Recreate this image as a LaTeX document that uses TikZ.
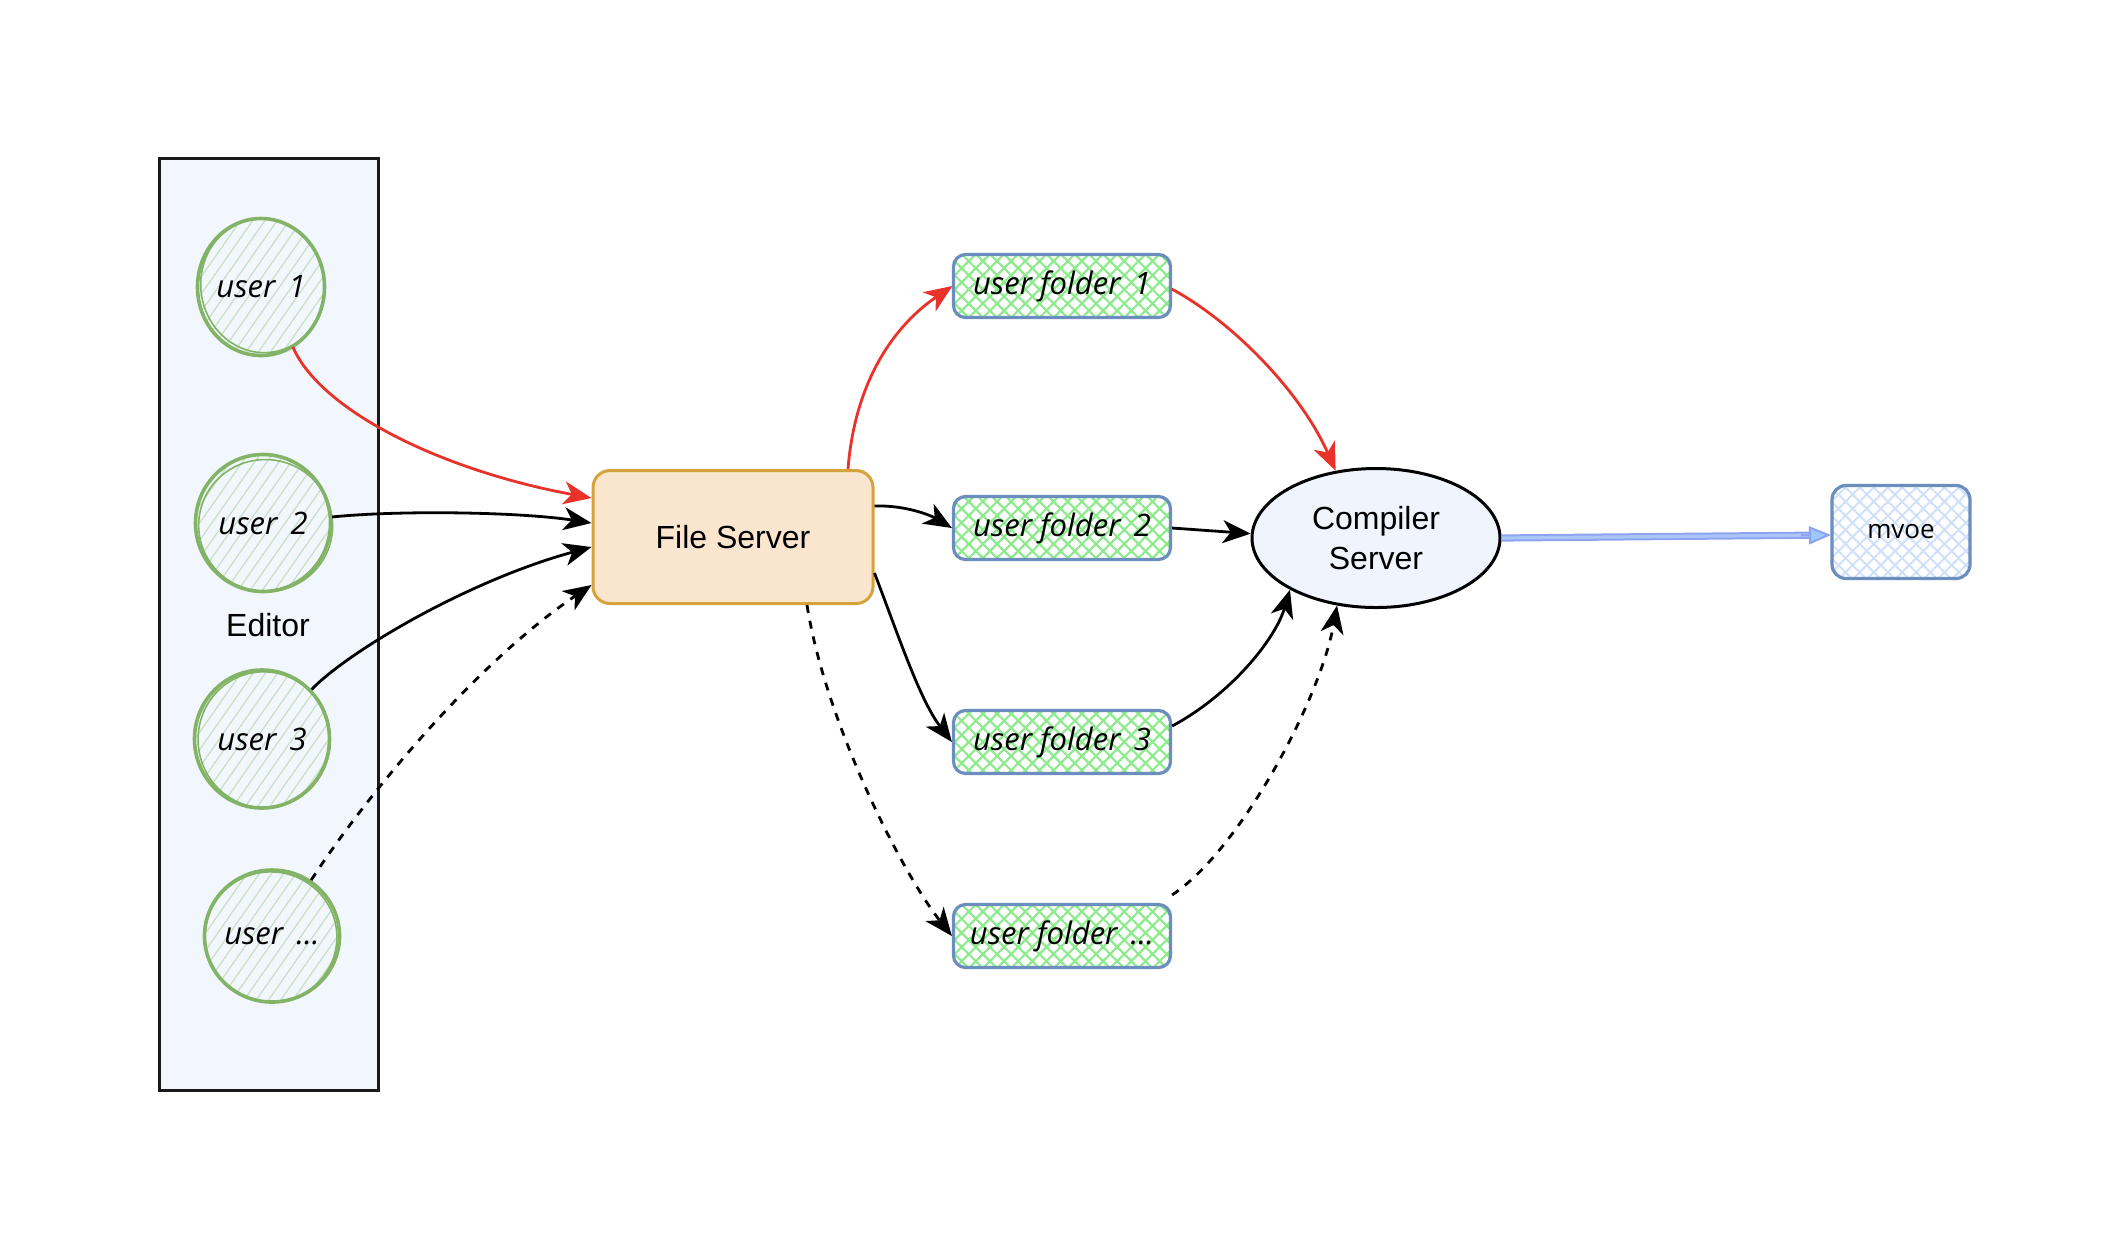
\documentclass[tikz,border=0pt]{standalone}
\usepackage{fontspec}
\setmainfont{Liberation Sans}
\newfontfamily\handfont{Open Sans}
\usetikzlibrary{arrows.meta,patterns.meta,shapes.geometric,calc}

\definecolor{usergreen}{HTML}{82B366}
\definecolor{hatchlight}{HTML}{C8DFC0}
\definecolor{hatchgreen}{HTML}{8DEA8D}
\definecolor{hatchblue}{HTML}{D0E0FA}
\definecolor{foldblue}{HTML}{6C8EBF}
\definecolor{edfill}{HTML}{F2F7FD}
\definecolor{csfill}{HTML}{F0F5FD}
\definecolor{fsfill}{HTML}{FAE6CF}
\definecolor{fsdraw}{HTML}{D6A23B}
\definecolor{redc}{HTML}{E8322A}
\definecolor{bluec}{HTML}{8DA3F2}
\definecolor{bluein}{HTML}{A9C6F7}
\definecolor{bluefill}{HTML}{9CC8FF}

\tikzset{
  handtext/.style={font=\handfont\itshape\fontsize{15.5}{18}\selectfont},
  editorbox/.style={draw=black!90, line width=1.5pt, fill=edfill, minimum width=109.5pt, minimum height=466pt, inner sep=0pt},
  usercirc/.style={ellipse, draw=usergreen, line width=1.8pt, inner sep=0pt,
    pattern={Lines[angle=55,distance=5pt,line width=0.6pt]}, pattern color=hatchlight, handtext},
  sketchring/.style={draw=usergreen, line width=0.8pt},
  fsbox/.style={draw=fsdraw, fill=fsfill, line width=1.5pt, rounded corners=8.5pt, minimum width=140pt, minimum height=66.5pt, font=\fontsize{16}{20}\selectfont},
  folder/.style={draw=foldblue, line width=1.6pt, rounded corners=6pt, minimum width=108.5pt, minimum height=31.5pt, inner sep=0pt,
    pattern={Hatch[angle=45,distance=5pt,line width=1.1pt]}, pattern color=hatchgreen, handtext},
  csell/.style={ellipse, draw=black, fill=csfill, line width=1.5pt, minimum width=124pt, minimum height=69.5pt, inner sep=0pt, align=center, font=\fontsize{16}{20}\selectfont},
  mvoebox/.style={draw=foldblue, line width=1.6pt, rounded corners=7pt, minimum width=69pt, minimum height=46.5pt, inner sep=0pt,
    pattern={Hatch[angle=45,distance=5pt,line width=1pt]}, pattern color=hatchblue, font=\handfont\fontsize{13}{15}\selectfont},
  arr/.style={-{Stealth[length=14pt,width=11.5pt,inset=4pt]}, line width=1.4pt},
  dsh/.style={dash pattern=on 4pt off 4pt},
}

\begin{document}
\begin{tikzpicture}[x=0.5pt,y=-0.5pt]
\useasboundingbox (0,0) rectangle (2124,1244);

% editor container
\node[editorbox] (ed) at (268.5,624) {};
\node[font=\fontsize{16}{20}\selectfont] (edl) at (268,625) {Editor};

% users
\node[usercirc, minimum width=63.5pt, minimum height=68.5pt] (u1) at (261,287) {user\ \,1};
\node[usercirc, minimum width=67.5pt, minimum height=68.5pt] (u2) at (263,523) {user\ \,2};
\node[usercirc, minimum width=67.5pt, minimum height=69pt] (u3) at (262,739) {user\ \,3};
\node[usercirc, minimum width=67.5pt, minimum height=66pt] (u4) at (272,936) {user\ \,...};

\draw[sketchring, rotate around={8:(u1.center)}] ($(u1.center)+(2,-1)$) ellipse [x radius=62, y radius=67];
\draw[sketchring, rotate around={-10:(u2.center)}] ($(u2.center)+(3,2)$) ellipse [x radius=67, y radius=66];
\draw[sketchring, rotate around={6:(u3.center)}] ($(u3.center)+(2,1)$) ellipse [x radius=66, y radius=68];
\draw[sketchring, rotate around={-6:(u4.center)}] ($(u4.center)+(-1,1)$) ellipse [x radius=66, y radius=65];

% servers
\node[fsbox] (fs) at (733,537) {File Server};
\node[csell] (cs) at (1376,538) {Compiler\\Server};

% folders
\node[folder] (f1) at (1062,286) {user folder\ \,1};
\node[folder] (f2) at (1062,528) {user folder\ \,2};
\node[folder] (f3) at (1062,742) {user folder\ \,3};
\node[folder] (f4) at (1062,936) {user folder\ \,...};

% output
\node[mvoebox] (mv) at (1901,532) {mvoe};

% users -> file server
\draw[arr, draw=redc, redc] (u1.-62) .. controls (320,410) and (440,470) .. ($(fs.west)+(0,-39)$);
\draw[arr] (u2.5) .. controls (400,510) and (520,512) .. ($(fs.west)+(0,-14)$);
\draw[arr] (u3.45) .. controls (350,650) and (470,580) .. ($(fs.west)+(0,10)$);
\draw[arr, dsh] (u4.55) .. controls (370,790) and (480,660) .. ($(fs.west)+(0,48)$);

% file server -> folders
\draw[arr, draw=redc] ($(fs.north)+(115,0)$) .. controls (855,380) and (895,325) .. (f1.west);
\draw[arr] ($(fs.east)+(0,-31)$) .. controls (905,505) and (930,515) .. (f2.west);
\draw[arr] ($(fs.east)+(0,36)$) .. controls (900,640) and (920,700) .. (f3.west);
\draw[arr, dsh] ($(fs.south)+(74,0)$) .. controls (825,720) and (900,870) .. (f4.west);

% folders -> compiler server
\draw[arr, draw=redc] ($(f1.east)+(0,3)$) .. controls (1230,320) and (1300,390) .. (cs.121.7);
\draw[arr] (f2.east) -- (cs.178);
\draw[arr] ($(f3.east)+(0,-16)$) .. controls (1230,695) and (1275,640) .. (cs.211);
\draw[arr, dsh] ($(f4.north east)+(0,-8)$) .. controls (1240,850) and (1320,700) .. (cs.240);

% compiler server -> mvoe
\coordinate (mvin) at ($(mv.west)+(0,3)$);
\draw[draw=bluec, line width=1pt, double=bluein, double distance=1.6pt, shorten >=10pt] (cs.east) -- (mvin);
\draw[draw=bluec, line width=1pt, -{Triangle[length=11pt,width=9pt,fill=bluefill]}] ($(mvin)+(-30,0.4)$) -- (mvin);
\end{tikzpicture}
\end{document}
